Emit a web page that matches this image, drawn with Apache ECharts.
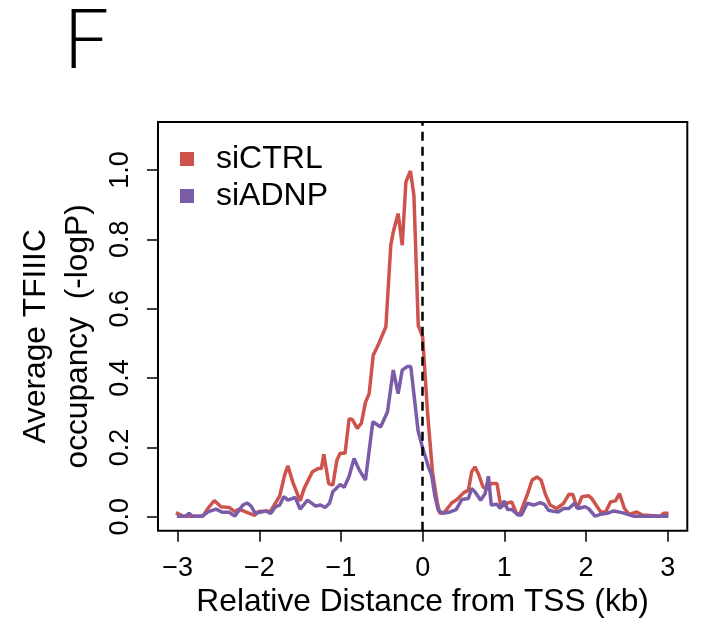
<!DOCTYPE html>
<html>
<head>
<meta charset="utf-8">
<script src="https://cdn.jsdelivr.net/npm/echarts@6/dist/echarts.min.js"></script>
<style>html,body{margin:0;padding:0;background:#fff;}#c{width:705px;height:625px;}</style>
</head>
<body>
<div id="c"></div>
<script>
// ---- data ----
const seriesNames = ['siCTRL', 'siADNP'];
const xTicks = [-3, -2, -1, 0, 1, 2, 3];
const yTicks = [0, 0.2, 0.4, 0.6, 0.8, 1.0];

const ctrlX = [-3.02,-2.94,-2.69,-2.63,-2.55,-2.47,-2.37,-2.30,-2.25,-2.06,-2.01,-1.86,-1.75,-1.69,-1.65,-1.59,-1.50,-1.45,-1.35,-1.28,-1.24,-1.21,-1.15,-1.10,-1.05,-1.01,-0.95,-0.90,-0.86,-0.80,-0.75,-0.70,-0.655,-0.605,-0.545,-0.45,-0.39,-0.36,-0.30,-0.25,-0.205,-0.15,-0.107,-0.054,0.0,0.06,0.12,0.18,0.21,0.27,0.355,0.42,0.50,0.56,0.60,0.64,0.68,0.74,0.785,0.84,0.91,0.95,0.99,1.04,1.09,1.15,1.19,1.28,1.34,1.40,1.45,1.50,1.56,1.64,1.725,1.79,1.84,1.89,1.95,2.03,2.07,2.18,2.24,2.30,2.36,2.41,2.47,2.53,2.62,2.69,2.91,2.95,3.01];
const ctrlY = [0.012,0.002,0.002,0.024,0.047,0.029,0.027,0.015,0.022,0.004,0.015,0.017,0.06,0.12,0.147,0.10,0.046,0.082,0.13,0.139,0.139,0.18,0.096,0.091,0.163,0.183,0.183,0.283,0.28,0.255,0.27,0.33,0.355,0.466,0.495,0.548,0.783,0.821,0.874,0.783,0.965,0.997,0.927,0.552,0.519,0.30,0.13,0.04,0.01,0.014,0.04,0.05,0.069,0.077,0.13,0.144,0.125,0.086,0.08,0.096,0.096,0.039,0.031,0.04,0.043,0.01,0.008,0.063,0.106,0.115,0.106,0.067,0.034,0.024,0.039,0.065,0.064,0.024,0.058,0.061,0.053,0.014,0.014,0.043,0.046,0.067,0.024,0.007,0.014,0.005,0.002,0.01,0.01];

const adnpX = [-3.01,-2.90,-2.86,-2.82,-2.70,-2.63,-2.53,-2.45,-2.37,-2.30,-2.20,-2.15,-2.10,-2.05,-1.98,-1.92,-1.86,-1.80,-1.75,-1.70,-1.65,-1.56,-1.50,-1.41,-1.31,-1.25,-1.195,-1.14,-1.10,-1.01,-0.96,-0.90,-0.84,-0.78,-0.70,-0.61,-0.515,-0.43,-0.36,-0.30,-0.25,-0.19,-0.145,-0.056,-0.01,0.07,0.11,0.15,0.19,0.25,0.335,0.41,0.48,0.56,0.60,0.64,0.71,0.765,0.805,0.84,0.91,0.95,1.00,1.04,1.09,1.17,1.21,1.28,1.36,1.44,1.49,1.54,1.60,1.66,1.725,1.79,1.86,1.90,1.99,2.03,2.11,2.18,2.26,2.34,2.44,2.58,3.01];
const adnpY = [0.002,0.002,0.01,0.002,0.002,0.014,0.022,0.013,0.013,0.002,0.034,0.04,0.031,0.01,0.014,0.017,0.01,0.029,0.034,0.058,0.048,0.056,0.022,0.048,0.031,0.034,0.027,0.039,0.072,0.093,0.085,0.117,0.168,0.137,0.106,0.274,0.259,0.303,0.423,0.355,0.423,0.433,0.433,0.248,0.207,0.144,0.12,0.06,0.019,0.01,0.014,0.021,0.05,0.053,0.082,0.072,0.048,0.067,0.117,0.034,0.036,0.024,0.046,0.021,0.021,0.005,0.005,0.039,0.034,0.041,0.036,0.019,0.016,0.014,0.024,0.024,0.039,0.024,0.029,0.024,0.002,0.007,0.01,0.017,0.012,0.002,0.002];

const zip = (xs, ys) => xs.map((x, i) => [x, ys[i]]);
const FONT = 'Liberation Sans';
const RED = '#CD534C', PURPLE = '#7B5CA8';

const chart = echarts.init(document.getElementById('c'), null, {renderer: 'canvas'});
chart.setOption({
  animation: false,
  backgroundColor: '#fff',
  title: {
    text: 'F', left: 63, top: 1, padding: 0,
    textStyle: {fontFamily: 'Lato', fontWeight: 300, fontSize: 82, color: '#000'}
  },
  grid: {left: 158, right: 17.7, top: 122, bottom: 94.3, show: true, borderColor: '#000', borderWidth: 2, backgroundColor: 'transparent'},
  legend: {
    orient: 'vertical', left: 180, top: 143, padding: 0, icon: 'rect', itemWidth: 14, itemHeight: 14, itemGap: 5,
    data: seriesNames,
    textStyle: {fontFamily: FONT, fontSize: 32, color: '#000', padding: [0, 0, 0, 17]}
  },
  xAxis: {
    type: 'value', min: -3.24, max: 3.24,
    axisLine: {show: false, onZero: false},
    splitLine: {show: false},
    axisTick: {show: true, inside: false, length: 11, customValues: xTicks, lineStyle: {color: '#000', width: 1.5}},
    axisLabel: {customValues: xTicks, margin: 24, fontFamily: FONT, fontSize: 27, color: '#000',
      formatter: v => v < 0 ? '\u2212' + Math.abs(v) : String(v)},
    name: 'Relative Distance from TSS (kb)', nameLocation: 'middle', nameGap: 56,
    nameTextStyle: {fontFamily: FONT, fontSize: 31.7, color: '#000'}
  },
  yAxis: {
    type: 'value', min: -0.04, max: 1.138,
    axisLine: {show: false, onZero: false},
    splitLine: {show: false},
    axisTick: {show: true, inside: false, length: 11, customValues: yTicks, lineStyle: {color: '#000', width: 1.5}},
    axisLabel: {customValues: yTicks, rotate: 90, margin: 24, fontFamily: FONT, fontSize: 27, color: '#000',
      formatter: v => v.toFixed(1)},
    name: 'Average TFIIIC\noccupancy  (-logP)', nameLocation: 'middle', nameRotate: 90, nameGap: 57,
    nameTextStyle: {fontFamily: FONT, fontSize: 31.7, color: '#000', lineHeight: 42, align: 'center', padding: [0, 20, 0, 0]}
  },
  series: [
    {name: seriesNames[0], type: 'line', data: zip(ctrlX, ctrlY), showSymbol: false, symbol: 'none',
      lineStyle: {color: RED, width: 3.5}, itemStyle: {color: RED}, z: 2},
    {name: seriesNames[1], type: 'line', data: zip(adnpX, adnpY), showSymbol: false, symbol: 'none',
      lineStyle: {color: PURPLE, width: 3.5}, itemStyle: {color: PURPLE}, z: 3,
      markLine: {silent: true, symbol: 'none', label: {show: false},
        lineStyle: {color: '#000', type: [9, 6], width: 2.5},
        data: [{xAxis: 0}]}}
  ]
});
</script>
</body>
</html>
